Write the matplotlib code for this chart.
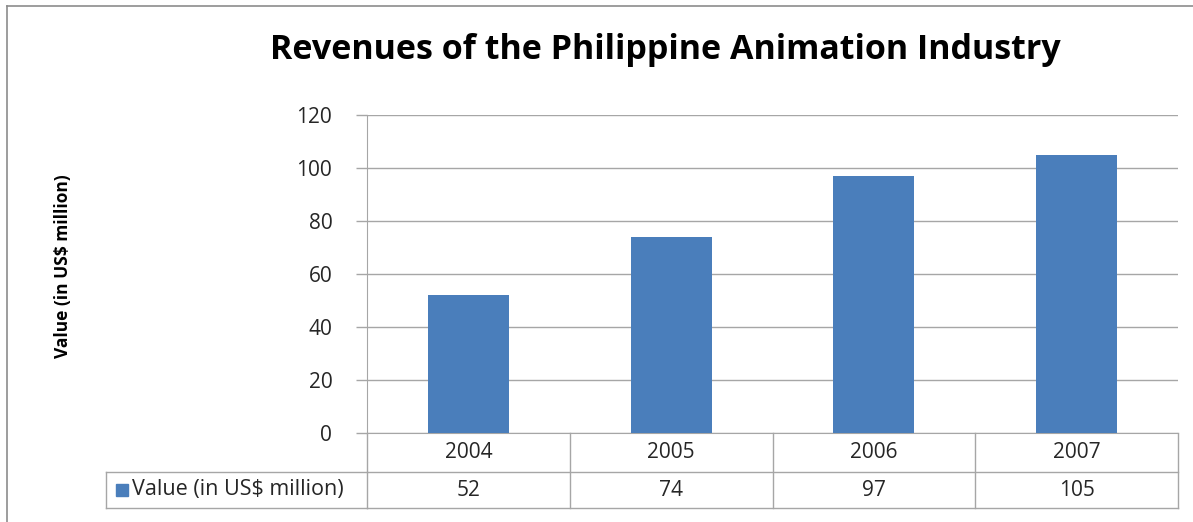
import matplotlib
matplotlib.use('Agg')
import matplotlib.pyplot as plt
import matplotlib.transforms as mtransforms
import numpy as np

years = ["2004", "2005", "2006", "2007"]
values = [52, 74, 97, 105]
series_name = "Value (in US$ million)"
y_ticks = [0, 20, 40, 60, 80, 100, 120]

bar_color = "#4a7ebb"
line_color = "#a6a6a6"
text_color = "#262626"
plt.rcParams['font.family'] = ['Open Sans', 'DejaVu Sans']

W, H = 1193, 522
fig = plt.figure(figsize=(W / 100, H / 100), dpi=100)

# plot area in pixel units of the figure
left, right, top, bottom = 367, 1178, 115, 433
ax = fig.add_axes([left / W, 1 - bottom / H, (right - left) / W, (bottom - top) / H])

x = np.arange(len(years))
ax.bar(x, values, width=0.4, color=bar_color, zorder=3)
ax.set_xlim(-0.5, len(years) - 0.5)
ax.set_ylim(0, 120)
ax.set_yticks(y_ticks)
ax.set_yticklabels([str(t) for t in y_ticks], fontsize=15, color=text_color)
ax.tick_params(axis='y', length=8, width=1, color=line_color, pad=17)
ax.set_xticks([])
ax.grid(axis='y', color=line_color, linewidth=1, zorder=0)
for s in ["top", "right"]:
    ax.spines[s].set_visible(False)
ax.spines["left"].set_color(line_color)
ax.spines["bottom"].set_color(line_color)

fy = lambda p: 1 - p / H

fig.text(665 / W, fy(50), "Revenues of the Philippine Animation Industry", fontsize=24.5,
         fontweight='bold', color="black", ha='center', va='center')

fig.text(63 / W, fy(266), series_name, rotation=90, fontsize=12.5,
         fontweight='bold', ha='center', va='center', color="black")

# data table below the axis: x in data units, y in figure pixels
trans = mtransforms.blended_transform_factory(ax.transData, fig.transFigure)
row1, row2, row3 = 433, 472, 508
for i in range(len(years) + 1):
    ax.plot([i - 0.5, i - 0.5], [fy(row1), fy(row3)], color=line_color, lw=1,
            transform=trans, clip_on=False)
ax.plot([-0.5, len(years) - 0.5], [fy(row2), fy(row2)], color=line_color, lw=1,
        transform=trans, clip_on=False)
ax.plot([-0.5, len(years) - 0.5], [fy(row3), fy(row3)], color=line_color, lw=1,
        transform=trans, clip_on=False)
for i, (yr, v) in enumerate(zip(years, values)):
    ax.text(i, fy((row1 + row2) / 2), yr, transform=trans, ha='center', va='center',
            fontsize=15, color=text_color)
    ax.text(i, fy((row2 + row3) / 2), str(v), transform=trans, ha='center', va='center',
            fontsize=15, color=text_color)

# legend cell on the left of the value row
fig.add_artist(plt.Line2D([106 / W, left / W], [fy(row2), fy(row2)], color=line_color, lw=1))
fig.add_artist(plt.Line2D([106 / W, left / W], [fy(row3), fy(row3)], color=line_color, lw=1))
fig.add_artist(plt.Line2D([106 / W, 106 / W], [fy(row2), fy(row3)], color=line_color, lw=1))
fig.add_artist(plt.Rectangle((116 / W, fy(496)), 12 / W, 12 / H, color=bar_color))
fig.text(132 / W, fy((row2 + row3) / 2), series_name, ha='left', va='center',
         fontsize=15.5, color=text_color)

# outer chart border (top and left visible)
fig.add_artist(plt.Line2D([7 / W, 1], [fy(6), fy(6)], color="#8c8c8c", lw=1.2))
fig.add_artist(plt.Line2D([7 / W, 7 / W], [0, fy(6)], color="#8c8c8c", lw=1.2))

plt.savefig("out.png", dpi=100)
